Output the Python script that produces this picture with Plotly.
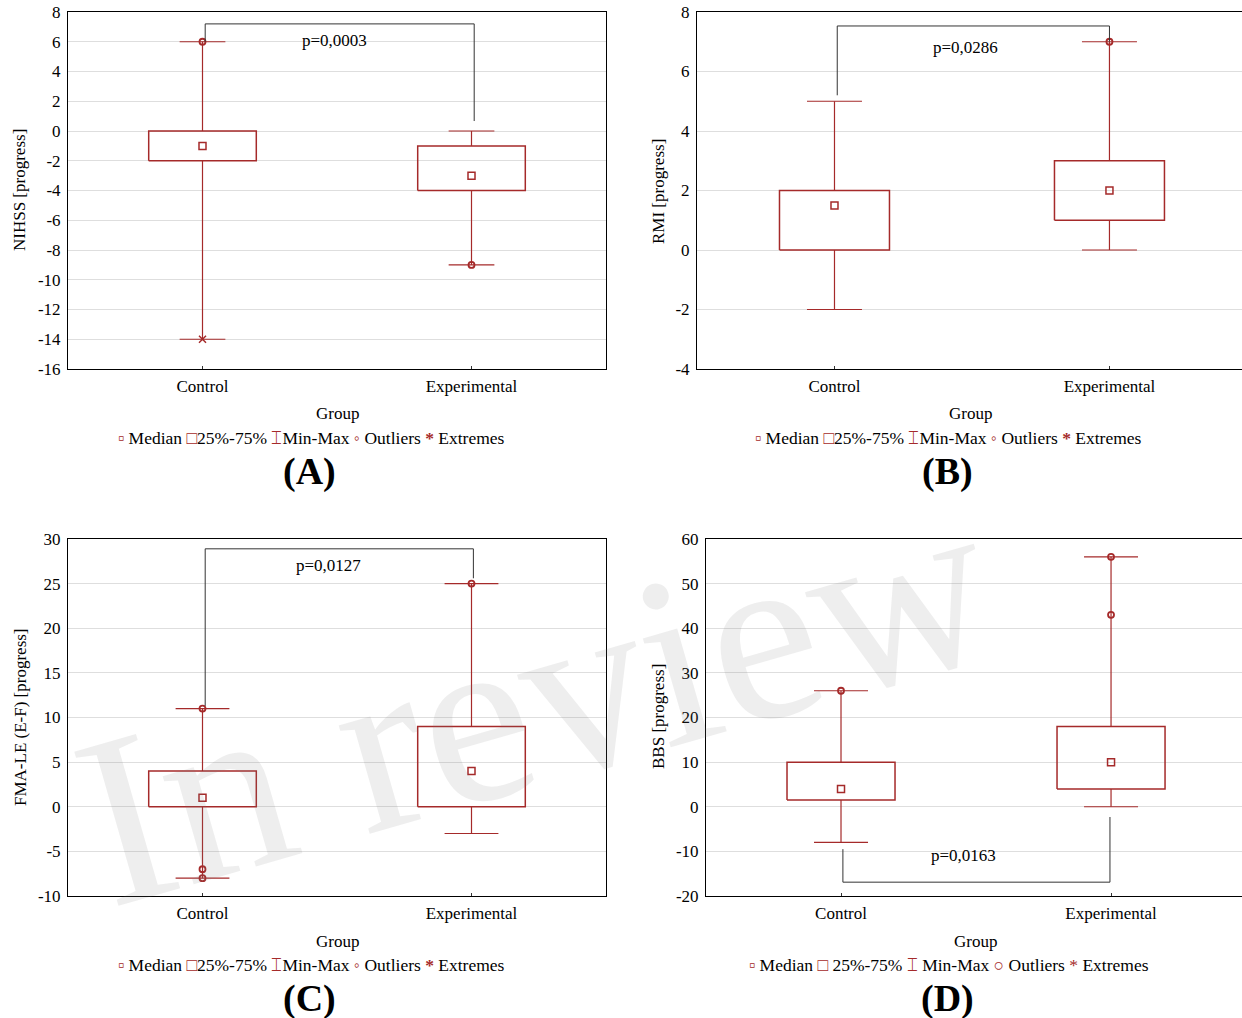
import plotly.graph_objects as go

# ---------------- data ----------------
groups = ["Control", "Experimental"]

nihss_min = [-14, -9]
nihss_q1 = [-2, -4]
nihss_med = [-1, -3]
nihss_q3 = [0, -1]
nihss_max = [6, 0]
nihss_out = [[6], [-9]]
nihss_ext = [[-14], []]

rmi_min = [-2, 0]
rmi_q1 = [0, 1]
rmi_med = [1.5, 2]
rmi_q3 = [2, 3]
rmi_max = [5, 7]
rmi_out = [[], [7]]
rmi_ext = [[], []]

fma_min = [-8, -3]
fma_q1 = [0, 0]
fma_med = [1, 4]
fma_q3 = [4, 9]
fma_max = [11, 25]
fma_out = [[11, -7, -8], [25]]
fma_ext = [[], []]

bbs_min = [-8, 0]
bbs_q1 = [1.5, 4]
bbs_med = [4, 10]
bbs_q3 = [10, 18]
bbs_max = [26, 56]
bbs_out = [[26], [56, 43]]
bbs_ext = [[], []]

p_texts = ["p=0,0003", "p=0,0286", "p=0,0127", "p=0,0163"]
p_text_x = [0.49, 0.475, 0.467, 0.452]
p_text_y = [6.1, 6.8, 27.0, -11.0]
bracket_x = [[0.01, 1.01], [0.01, 1.0], [0.01, 1.007], [0.007, 0.996]]
bracket_feet = [[6, 0.67], [5.2, 7], [11.3, 25.6], [-9.5, -2.3]]
bracket_level = [7.2, 7.53, 28.9, -16.9]

y_titles = ["NIHSS [progress]", "RMI [progress]", "FMA-LE (E-F) [progress]", "BBS [progress]"]
y_ranges = [[-16, 8], [-4, 8], [-10, 30], [-20, 60]]
y_ticks = [list(range(-16, 9, 2)), list(range(-4, 9, 2)), list(range(-10, 31, 5)), list(range(-20, 61, 10))]
panel_labels = ["(A)", "(B)", "(C)", "(D)"]

legend_abc = ("<span style='color:#a52a2a'>▫</span> Median <span style='color:#a52a2a'>□</span>25%-75% "
              "<span style='color:#a52a2a'>⌶</span>Min-Max <span style='color:#a52a2a'>◦</span> Outliers "
              "<span style='color:#a52a2a'><b>*</b></span> Extremes")
legend_d = ("<span style='color:#a52a2a'>▫</span> Median <span style='color:#a52a2a'>□</span> 25%-75% "
            "<span style='color:#a52a2a'>⌶</span> Min-Max <span style='color:#a52a2a'>○</span> Outliers "
            "<span style='color:#a52a2a'>*</span> Extremes")
legend_texts = [legend_abc, legend_abc, legend_abc, legend_d]

stats = [
    (nihss_min, nihss_q1, nihss_med, nihss_q3, nihss_max, nihss_out, nihss_ext),
    (rmi_min, rmi_q1, rmi_med, rmi_q3, rmi_max, rmi_out, rmi_ext),
    (fma_min, fma_q1, fma_med, fma_q3, fma_max, fma_out, fma_ext),
    (bbs_min, bbs_q1, bbs_med, bbs_q3, bbs_max, bbs_out, bbs_ext),
]

# ---------------- layout geometry (pixels, page coordinates) ----------------
W, H = 1242, 1018
rects = [(68, 606, 12, 369), (697, 1242, 12, 369), (68, 606, 539, 896), (706, 1242, 539, 896)]
x_ranges = [[-0.5, 1.5], [-0.5, 1.482], [-0.5, 1.5], [-0.5, 1.485]]
cap_half = [0.085, 0.1, 0.1, 0.1]
box_half = 0.2
RED = "#a52a2a"
FONT = "Liberation Serif"

ytitle_pos = [(20, 190), (658, 192), (20, 717), (658, 717)]
group_pos = [(337, 414), (970, 414), (337, 941), (975, 941)]
legend_pos = [(311, 438), (949, 438), (311, 965), (949, 965)]
label_pos = [(309, 471), (948, 471), (309, 998), (948, 998)]


def fx(px):
    return min(1.0, max(0.0, px / W))


def fy(py):
    return min(1.0, max(0.0, 1 - py / H))


fig = go.Figure()
annotations = []


def paper_note(px, py, text, size, angle=0, color="black"):
    return dict(x=fx(px), y=fy(py), xref="paper", yref="paper", text=text,
                xanchor="center", yanchor="middle", textangle=angle, showarrow=False,
                font=dict(family=FONT, size=size, color=color))


for k in range(4):
    xa = "x" if k == 0 else f"x{k+1}"
    ya = "y" if k == 0 else f"y{k+1}"
    mn, q1, md, q3, mx, outs, exts = stats[k]
    ch = cap_half[k]
    for i in range(2):
        fig.add_trace(go.Scatter(
            x=[i - box_half, i + box_half, i + box_half, i - box_half, i - box_half],
            y=[q1[i], q1[i], q3[i], q3[i], q1[i]],
            mode="lines", line=dict(color=RED, width=1.5),
            xaxis=xa, yaxis=ya, showlegend=False, hoverinfo="skip"))
        fig.add_trace(go.Scatter(
            x=[i, i, None, i, i, None, i - ch, i + ch, None, i - ch, i + ch],
            y=[q3[i], mx[i], None, q1[i], mn[i], None, mx[i], mx[i], None, mn[i], mn[i]],
            mode="lines", line=dict(color=RED, width=1.2),
            xaxis=xa, yaxis=ya, showlegend=False, hoverinfo="skip"))
        fig.add_trace(go.Scatter(
            x=[i], y=[md[i]], mode="markers",
            marker=dict(symbol="square-open", size=7, color=RED, line=dict(width=1.5)),
            xaxis=xa, yaxis=ya, showlegend=False))
        if outs[i]:
            fig.add_trace(go.Scatter(
                x=[i] * len(outs[i]), y=outs[i], mode="markers",
                marker=dict(symbol="circle-open", size=6, color=RED, line=dict(width=1.8)),
                xaxis=xa, yaxis=ya, showlegend=False))
        if exts[i]:
            fig.add_trace(go.Scatter(
                x=[i] * len(exts[i]), y=exts[i], mode="markers",
                marker=dict(symbol="x-thin-open", size=7, color=RED, line=dict(width=1.5)),
                xaxis=xa, yaxis=ya, showlegend=False))
    bx = bracket_x[k]
    bf = bracket_feet[k]
    bl = bracket_level[k]
    fig.add_trace(go.Scatter(
        x=[bx[0], bx[0], bx[1], bx[1]], y=[bf[0], bl, bl, bf[1]],
        mode="lines", line=dict(color="#333333", width=1),
        xaxis=xa, yaxis=ya, showlegend=False, hoverinfo="skip"))
    annotations.append(dict(x=p_text_x[k], y=p_text_y[k], xref=xa, yref=ya, text=p_texts[k],
                            xanchor="center", yanchor="middle",
                            showarrow=False, font=dict(family=FONT, size=17, color="black")))

    x0, x1, yt, yb = rects[k]
    xkey = "xaxis" if k == 0 else f"xaxis{k+1}"
    ykey = "yaxis" if k == 0 else f"yaxis{k+1}"
    fig.update_layout(**{
        xkey: dict(domain=[fx(x0), fx(x1)], range=x_ranges[k], anchor=ya, automargin=False,
                   tickvals=[0, 1], ticktext=groups, ticks="inside", ticklen=3, tickcolor="#333",
                   showgrid=False, zeroline=False, showline=True, linecolor="black", linewidth=1,
                   mirror=True, ticklabelstandoff=2, ticklabeloverflow="allow",
                   tickfont=dict(family=FONT, size=17, color="black")),
        ykey: dict(domain=[fy(yb), fy(yt)], range=y_ranges[k], anchor=xa, automargin=False,
                   tickvals=y_ticks[k], ticktext=[str(v) for v in y_ticks[k]], ticks="",
                   showgrid=True, gridcolor="#dedede", gridwidth=1, zeroline=False,
                   showline=True, linecolor="black", linewidth=1,
                   mirror=(k in (0, 2)), ticklabelstandoff=3, ticklabeloverflow="allow",
                   tickfont=dict(family=FONT, size=17, color="black")),
    })

    tx, ty = ytitle_pos[k]
    annotations.append(paper_note(tx, ty, y_titles[k], 17, angle=-90))
    gx, gy = group_pos[k]
    annotations.append(paper_note(gx, gy, "Group", 17))
    lx, ly = legend_pos[k]
    annotations.append(paper_note(lx, ly, legend_texts[k], 17.5))
    px, py = label_pos[k]
    annotations.append(paper_note(px, py, "<b>" + panel_labels[k] + "</b>", 38))

annotations.append(paper_note(535, 700, "In review", 245, angle=-16, color="rgba(120,120,120,0.13)"))

fig.update_layout(width=W, height=H, margin=dict(l=0, r=0, t=0, b=0, autoexpand=False),
                  paper_bgcolor="white", plot_bgcolor="white",
                  annotations=annotations, showlegend=False)

fig.write_html("out.html", config={"displayModeBar": False},
               post_script="document.body.style.margin='0';")
